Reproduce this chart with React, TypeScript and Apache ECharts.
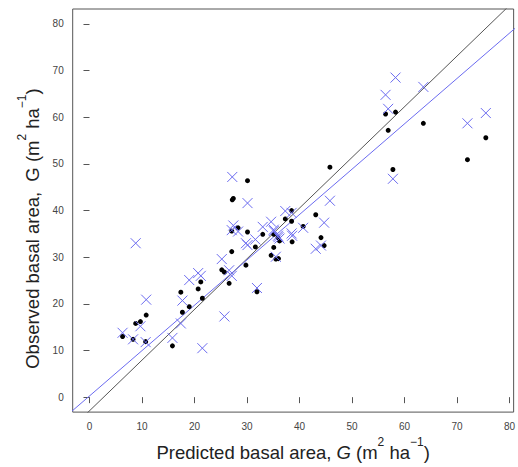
import React, { useEffect, useRef } from "react";
import * as echarts from "echarts";

// Predicted basal area (shared x for both series)
const predicted = [
  6.3, 8.3, 8.8, 9.7, 10.7, 10.8, 15.8, 17.4, 17.7, 19.0,
  20.7, 21.2, 21.5, 25.2, 25.7, 26.6, 27.1, 27.1, 27.2, 27.4,
  28.3, 29.8, 30.1, 30.1, 31.6, 31.9, 33.0, 34.6, 35.1, 35.1,
  35.5, 36.0, 35.9, 36.2, 37.3, 38.5, 38.5, 38.6, 40.7, 43.1,
  44.1, 44.7, 45.8, 56.4, 56.9, 57.8, 58.3, 63.6, 72.0, 75.5,
];
// Observed basal area, model A (black dots)
const observedDots = [
  13.0, 12.4, 15.8, 16.2, 11.9, 17.6, 11.0, 22.5, 18.2, 19.4,
  23.2, 24.7, 21.2, 27.3, 26.8, 24.4, 31.2, 35.6, 42.3, 42.6,
  36.3, 28.3, 46.4, 35.4, 32.2, 22.6, 34.9, 30.4, 32.1, 34.9,
  29.6, 29.7, 34.2, 33.5, 38.2, 40.0, 37.7, 33.3, 36.6, 39.1,
  34.2, 32.5, 49.3, 60.7, 57.2, 48.8, 61.1, 58.7, 50.9, 55.6,
];
// Observed basal area, model B (blue crosses)
const observedCrosses = [
  13.8, 12.4, 33.0, 15.2, 11.8, 20.9, 12.7, 15.8, 20.7, 25.1,
  26.6, 26.0, 10.5, 29.6, 17.3, 27.2, 26.0, 35.8, 47.2, 36.8,
  35.5, 33.0, 41.6, 32.6, 33.8, 23.4, 36.5, 37.6, 35.6, 35.9,
  30.1, 34.3, 34.6, 34.0, 39.9, 39.5, 35.1, 34.6, 36.3, 31.8,
  32.5, 37.4, 42.1, 64.8, 61.8, 46.8, 68.5, 66.5, 58.7, 60.9,
];
// Fitted lines (slope, intercept)
const blackFit = { slope: 1.086, intercept: -2.92 };
const blueFit = { slope: 0.972, intercept: 0.26 };
const xTicks = [0, 10, 20, 30, 40, 50, 60, 70, 80];
const yTicks = [0, 10, 20, 30, 40, 50, 60, 70, 80];

const X_MIN = -3.2, X_MAX = 80.8, Y_MIN = -3.2, Y_MAX = 83.2;

const FONT = "Liberation Sans, Arial, sans-serif";
const BLUE = "#6b6bf0";

function fitLine(f: { slope: number; intercept: number }) {
  return [-10, 90].map((x) => [x, f.slope * x + f.intercept]);
}

const titleRich = {
  t: { fontSize: 18.5, fontFamily: FONT, color: "#222", verticalAlign: "bottom", lineHeight: 26 },
  i: { fontSize: 18.5, fontFamily: FONT, color: "#222", fontStyle: "italic", verticalAlign: "bottom", lineHeight: 26 },
  s: { fontSize: 12, fontFamily: FONT, color: "#222", verticalAlign: "top", lineHeight: 15 },
};

export default function App() {
  const ref = useRef<HTMLDivElement>(null);
  useEffect(() => {
    if (!ref.current) return;
    const chart = echarts.init(ref.current, undefined, { renderer: "svg" });
    chart.setOption({
      animation: false,
      backgroundColor: "#fff",
      grid: {
        left: 72.7,
        right: 1,
        top: 9,
        bottom: 46.3,
        show: true,
        borderColor: "#555",
        borderWidth: 1,
        backgroundColor: "transparent",
      },
      xAxis: {
        type: "value",
        min: X_MIN,
        max: X_MAX,
        splitLine: { show: false },
        axisLine: { show: false },
        axisTick: {
          show: true,
          inside: false,
          length: 6,
          customValues: xTicks,
          lineStyle: { color: "#555" },
        },
        axisLabel: {
          customValues: xTicks,
          fontSize: 10,
          fontFamily: FONT,
          color: "#444",
          margin: 9,
          showMinLabel: true,
          showMaxLabel: true,
        },
        name: "{t|Predicted basal area, }{i|G}{t| (m}{s|2}{t| ha}{s|−1}{t|)}",
        nameLocation: "middle",
        nameGap: 23,
        nameTextStyle: { rich: titleRich },
      },
      yAxis: {
        type: "value",
        min: Y_MIN,
        max: Y_MAX,
        splitLine: { show: false },
        axisLine: { show: false },
        axisTick: {
          show: true,
          inside: false,
          length: 6,
          customValues: yTicks,
          lineStyle: { color: "#555" },
        },
        axisLabel: {
          customValues: yTicks,
          fontSize: 10,
          fontFamily: FONT,
          color: "#444",
          margin: 9,
          showMinLabel: true,
          showMaxLabel: true,
        },
        name: "{t|Observed basal area,  G (m}{s|2}{t| ha}{s|−1}{t|)}",
        nameLocation: "middle",
        nameGap: 31,
        nameRotate: 90,
        nameTextStyle: { rich: titleRich, padding: [0, 36, 0, 0] },
      },
      series: [
        {
          type: "line",
          data: fitLine(blackFit),
          showSymbol: false,
          symbol: "none",
          lineStyle: { color: "#555", width: 1 },
          clip: true,
          z: 1,
        },
        {
          type: "line",
          data: fitLine(blueFit),
          showSymbol: false,
          symbol: "none",
          lineStyle: { color: BLUE, width: 1 },
          clip: true,
          z: 1,
        },
        {
          type: "scatter",
          data: predicted.map((x, i) => [x, observedDots[i]]),
          symbol: "circle",
          symbolSize: 5,
          itemStyle: { color: "#000", opacity: 1 },
          z: 3,
        },
        {
          type: "scatter",
          data: predicted.map((x, i) => [x, observedCrosses[i]]),
          symbol: "path://M0,0L10,10M10,0L0,10",
          symbolSize: 10,
          itemStyle: { color: "none", borderColor: BLUE, borderWidth: 1, opacity: 1 },
          z: 4,
        },
      ],
    });
    return () => chart.dispose();
  }, []);
  return (
    <div
      ref={ref}
      style={{ position: "fixed", left: 0, top: 0, width: 518, height: 467, background: "#fff" }}
    />
  );
}
